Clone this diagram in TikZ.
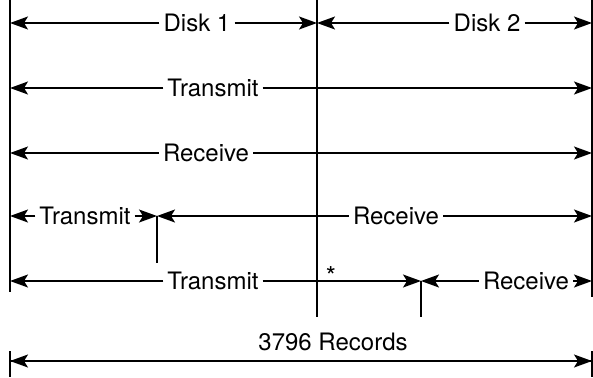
\documentclass[tikz,border=0pt]{standalone}
\usepackage{fontspec}
\setmainfont{TeX Gyre Heros}
\usetikzlibrary{arrows.meta}

\tikzset{
  lbl/.style={inner sep=4pt, font=\fontsize{24}{28}\selectfont},
  dim/.style={line width=1.4pt, -{Stealth[length=18pt,width=13pt,inset=4pt]}},
  bar/.style={line width=1.4pt}
}

\begin{document}
\begin{tikzpicture}[x=1pt, y=-1pt]
    \useasboundingbox (0,0) rectangle (593,377);

    % limits
    \draw[bar] (10,0) -- (10,292);
    \draw[bar] (317,0) -- (317,317);
    \draw[bar] (592,0) -- (592,297);
    \draw[bar] (157,216) -- (157,263);
    \draw[bar] (421,281) -- (421,317);
    \draw[bar] (10,351) -- (10,377);
    \draw[bar] (592,351) -- (592,377);

    % end points
    \coordinate (l1) at (10,23);   \coordinate (m1) at (317,23);  \coordinate (r1) at (592,23);
    \coordinate (l2) at (10,88);   \coordinate (r2) at (592,88);
    \coordinate (l3) at (10,153);  \coordinate (r3) at (592,153);
    \coordinate (l4) at (10,216);  \coordinate (t4) at (157,216); \coordinate (r4) at (592,216);
    \coordinate (l5) at (10,281);  \coordinate (t5) at (421,281); \coordinate (r5) at (592,281);
    \coordinate (l6) at (10,361);  \coordinate (r6) at (592,361);

    \node[lbl] (disk1) at (197,23) {Disk 1};
    \node[lbl] (disk2) at (487,23) {Disk 2};
    \node[lbl] (tx2) at (213,88) {Transmit};
    \node[lbl] (rx3) at (206,153) {Receive};
    \node[lbl] (tx4) at (85,216) {Transmit};
    \node[lbl] (rx4) at (396,216) {Receive};
    \node[lbl] (tx5) at (213,281) {Transmit};
    \node[lbl] (rx5) at (526,281) {Receive};
    \node[lbl] (star) at (331,276) {\fontsize{26}{26}\selectfont *};
    \node[lbl] (recs) at (333,342) {3796 Records};

    \draw[dim] (disk1.west) -- (l1);
    \draw[dim] (disk1.east) -- (m1);
    \draw[dim] (disk2.west) -- (m1);
    \draw[dim] (disk2.east) -- (r1);

    \draw[dim] (tx2.west) -- (l2);
    \draw[dim] (tx2.east) -- (r2);

    \draw[dim] (rx3.west) -- (l3);
    \draw[dim] (rx3.east) -- (r3);

    \draw[dim] (tx4.west) -- (l4);
    \draw[dim] (tx4.east) -- (t4);
    \draw[dim] (rx4.west) -- (t4);
    \draw[dim] (rx4.east) -- (r4);

    \draw[dim] (tx5.west) -- (l5);
    \draw[dim] (tx5.east) -- (t5);
    \draw[dim] (rx5.west) -- (t5);
    \draw[dim] (rx5.east) -- (r5);

    \draw[dim] (l6) -- (r6);
    \draw[dim] (r6) -- (l6);
\end{tikzpicture}
\end{document}
